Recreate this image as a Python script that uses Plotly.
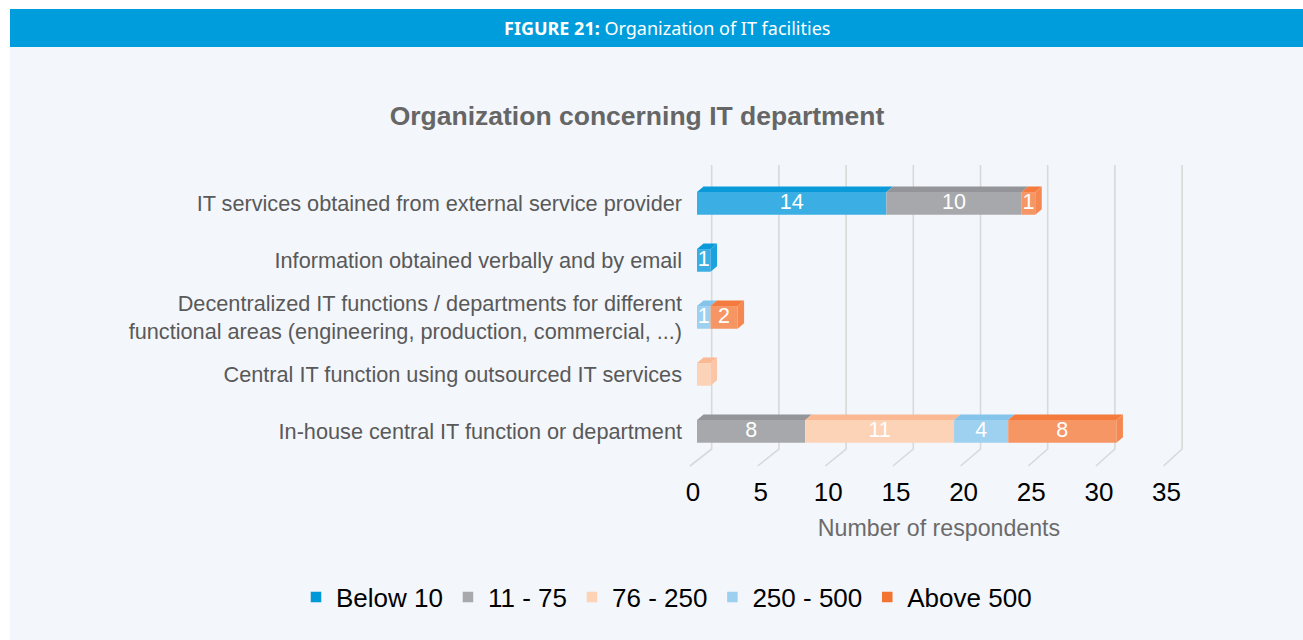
import plotly.graph_objects as go

# ---------------- data ----------------
categories = [
    "IT services obtained from external service provider",
    "Information obtained verbally and by email",
    "Decentralized IT functions / departments for different<br>functional areas (engineering, production, commercial, ...)",
    "Central IT function using outsourced IT services",
    "In-house central IT function or department",
]
series_names = ["Below 10", "11 - 75", "76 - 250", "250 - 500", "Above 500"]
below_10 = [14, 1, None, None, None]
s_11_75 = [10, None, None, None, 8]
s_76_250 = [None, None, None, 1, 11]
s_250_500 = [None, None, 1, None, 4]
above_500 = [1, None, 2, None, 8]
series_values = [below_10, s_11_75, s_76_250, s_250_500, above_500]
hidden_labels = {(2, 3)}  # (series index, category index) without a data label
x_ticks = [0, 5, 10, 15, 20, 25, 30, 35]
x_tick_labels = [str(t) for t in x_ticks]

title_text = "Organization concerning IT department"
x_title = "Number of respondents"
banner_text = "<b>FIGURE 21:</b> Organization of IT facilities"

# ---------------- styles ----------------
front_colors = ["#3BAEE3", "#A7A8AB", "#FDD3B8", "#9ED0EF", "#F79665"]
top_colors = ["#0A9ADA", "#939598", "#FAB893", "#84C4EB", "#F47A3D"]
side_colors = ["#1BA1DE", "#9C9DA0", "#FBC6A6", "#8DC8EC", "#F58850"]
legend_colors = ["#0099D8", "#A7A9AC", "#FDD2B5", "#9DCFEF", "#F37330"]

W, H = 1303, 640
PLOT_L, PLOT_R, PLOT_T, PLOT_B = 686, 1192, 158, 470
X0_PX = 697.0          # pixel of value 0 on the bar front plane
PPU = 13.53            # pixels per unit
ROW0_PX, ROW_PX = 203.4, 57.0
XMIN = (PLOT_L - X0_PX) / PPU
XMAX = (PLOT_R - X0_PX) / PPU
YTOP = -(ROW0_PX - PLOT_T) / ROW_PX
YBOT = (PLOT_B - ROW0_PX) / ROW_PX
BAR_H = 22.7           # front face height, px
DX, DY = 6.5, 5.5      # 3-D depth offset, px
FONT = "Liberation Sans, Arial, sans-serif"


def px_x(px):
    return (px - PLOT_L) / (PLOT_R - PLOT_L)


def px_y(py):
    return (PLOT_B - py) / (PLOT_B - PLOT_T)


fig = go.Figure()
shapes = []

# page background pieces
shapes.append(dict(type="rect", xref="paper", yref="paper", layer="below",
                   x0=px_x(0), x1=px_x(W), y0=px_y(0), y1=px_y(9),
                   fillcolor="white", line_width=0))
shapes.append(dict(type="rect", xref="paper", yref="paper", layer="below",
                   x0=px_x(0), x1=px_x(10), y0=px_y(0), y1=px_y(H),
                   fillcolor="white", line_width=0))
shapes.append(dict(type="rect", xref="paper", yref="paper", layer="below",
                   x0=px_x(10), x1=px_x(W), y0=px_y(9), y1=px_y(47),
                   fillcolor="#009DDC", line_width=0))

# 3-D gridlines (back wall + floor diagonals)
for t in x_ticks:
    back = 14.7 - 0.09 * t
    shapes.append(dict(type="path", xref="x", yref="y", layer="below",
                       xsizemode="pixel", xanchor=t, ysizemode="pixel", yanchor=YBOT,
                       path=f"M {back},{PLOT_B-165} L {back},{PLOT_B-449} L -7,{PLOT_B-466}",
                       line=dict(color="#D9D9D9", width=1.6)))

# stacked bars
bases = [0.0] * len(categories)
last_series = {}
for si, vals in enumerate(series_values):
    for ci, v in enumerate(vals):
        if v:
            last_series[ci] = si

label_x, label_y, label_t = [], [], []
h2 = BAR_H / 2
for si, (name, vals) in enumerate(zip(series_names, series_values)):
    seg_base = []
    for ci, v in enumerate(vals):
        seg_base.append(bases[ci])
        if v:
            w = v * PPU
            shapes.append(dict(type="path", xref="x", yref="y",
                               xsizemode="pixel", xanchor=bases[ci],
                               ysizemode="pixel", yanchor=ci,
                               path=f"M 0,{h2} L {w},{h2} L {w+DX},{h2+DY} L {DX},{h2+DY} Z",
                               fillcolor=top_colors[si], line_width=0))
            if last_series[ci] == si:
                shapes.append(dict(type="path", xref="x", yref="y",
                                   xsizemode="pixel", xanchor=bases[ci],
                                   ysizemode="pixel", yanchor=ci,
                                   path=f"M {w},{h2} L {w+DX},{h2+DY} L {w+DX},{-h2+DY} L {w},{-h2} Z",
                                   fillcolor=side_colors[si], line_width=0))
            if (si, ci) not in hidden_labels:
                label_x.append(bases[ci] + v / 2)
                label_y.append(ci)
                label_t.append(str(v))
            bases[ci] += v
    fig.add_trace(go.Bar(
        name=name, orientation="h", y=list(range(len(categories))), x=vals, base=seg_base,
        width=BAR_H / ROW_PX, marker=dict(color=front_colors[si], line_width=0),
        showlegend=False, hovertemplate=name + ": %{x}<extra></extra>",
    ))

fig.add_trace(go.Scatter(x=label_x, y=label_y, text=label_t, mode="text",
                         textfont=dict(family=FONT, size=21.5, color="white"),
                         showlegend=False, hoverinfo="skip"))

# legend entries
for si, name in enumerate(series_names):
    fig.add_trace(go.Scatter(x=[None], y=[None], mode="markers", name=name,
                             marker=dict(symbol="square", size=10.5, color=legend_colors[si])))

fig.update_layout(
    width=W, height=H,
    margin=dict(l=PLOT_L, r=W - PLOT_R, t=PLOT_T, b=H - PLOT_B, autoexpand=False),
    paper_bgcolor="#F3F6FB", plot_bgcolor="rgba(0,0,0,0)",
    barmode="overlay", shapes=shapes,
    title=dict(text="<b>" + title_text + "</b>", xref="container", yref="container",
               x=637 / W, y=1 - 116 / H, xanchor="center", yanchor="middle",
               font=dict(family=FONT, size=26.5, color="#666666")),
    xaxis=dict(range=[XMIN, XMAX], tickvals=x_ticks, ticktext=x_tick_labels,
               showgrid=False, zeroline=False, showline=False, ticks="",
               ticklabelshift=-4, ticklabelstandoff=4,
               tickfont=dict(family=FONT, size=26, color="black"),
               title=dict(text=x_title, standoff=13,
                          font=dict(family=FONT, size=23.2, color="#6B6B6B"))),
    yaxis=dict(range=[YBOT, YTOP], tickvals=list(range(len(categories))), ticktext=categories,
               showgrid=False, zeroline=False, showline=False, ticks="",
               ticklabelstandoff=3,
               tickfont=dict(family=FONT, size=21.7, color="#595959")),
    legend=dict(orientation="h", xref="paper", yref="paper",
                x=px_x(296), y=px_y(597), xanchor="left", yanchor="middle",
                font=dict(family=FONT, size=26, color="black"), itemwidth=30,
                bgcolor="rgba(0,0,0,0)"),
    annotations=[dict(text=banner_text, xref="paper", yref="paper",
                      x=px_x(667), y=px_y(28), xanchor="center", yanchor="middle",
                      showarrow=False,
                      font=dict(family="Noto Sans", size=18, color="white"))],
)

fig.write_html("out.html", config={"displayModeBar": False},
               post_script="document.body.style.margin='0';document.body.style.overflow='hidden';")
